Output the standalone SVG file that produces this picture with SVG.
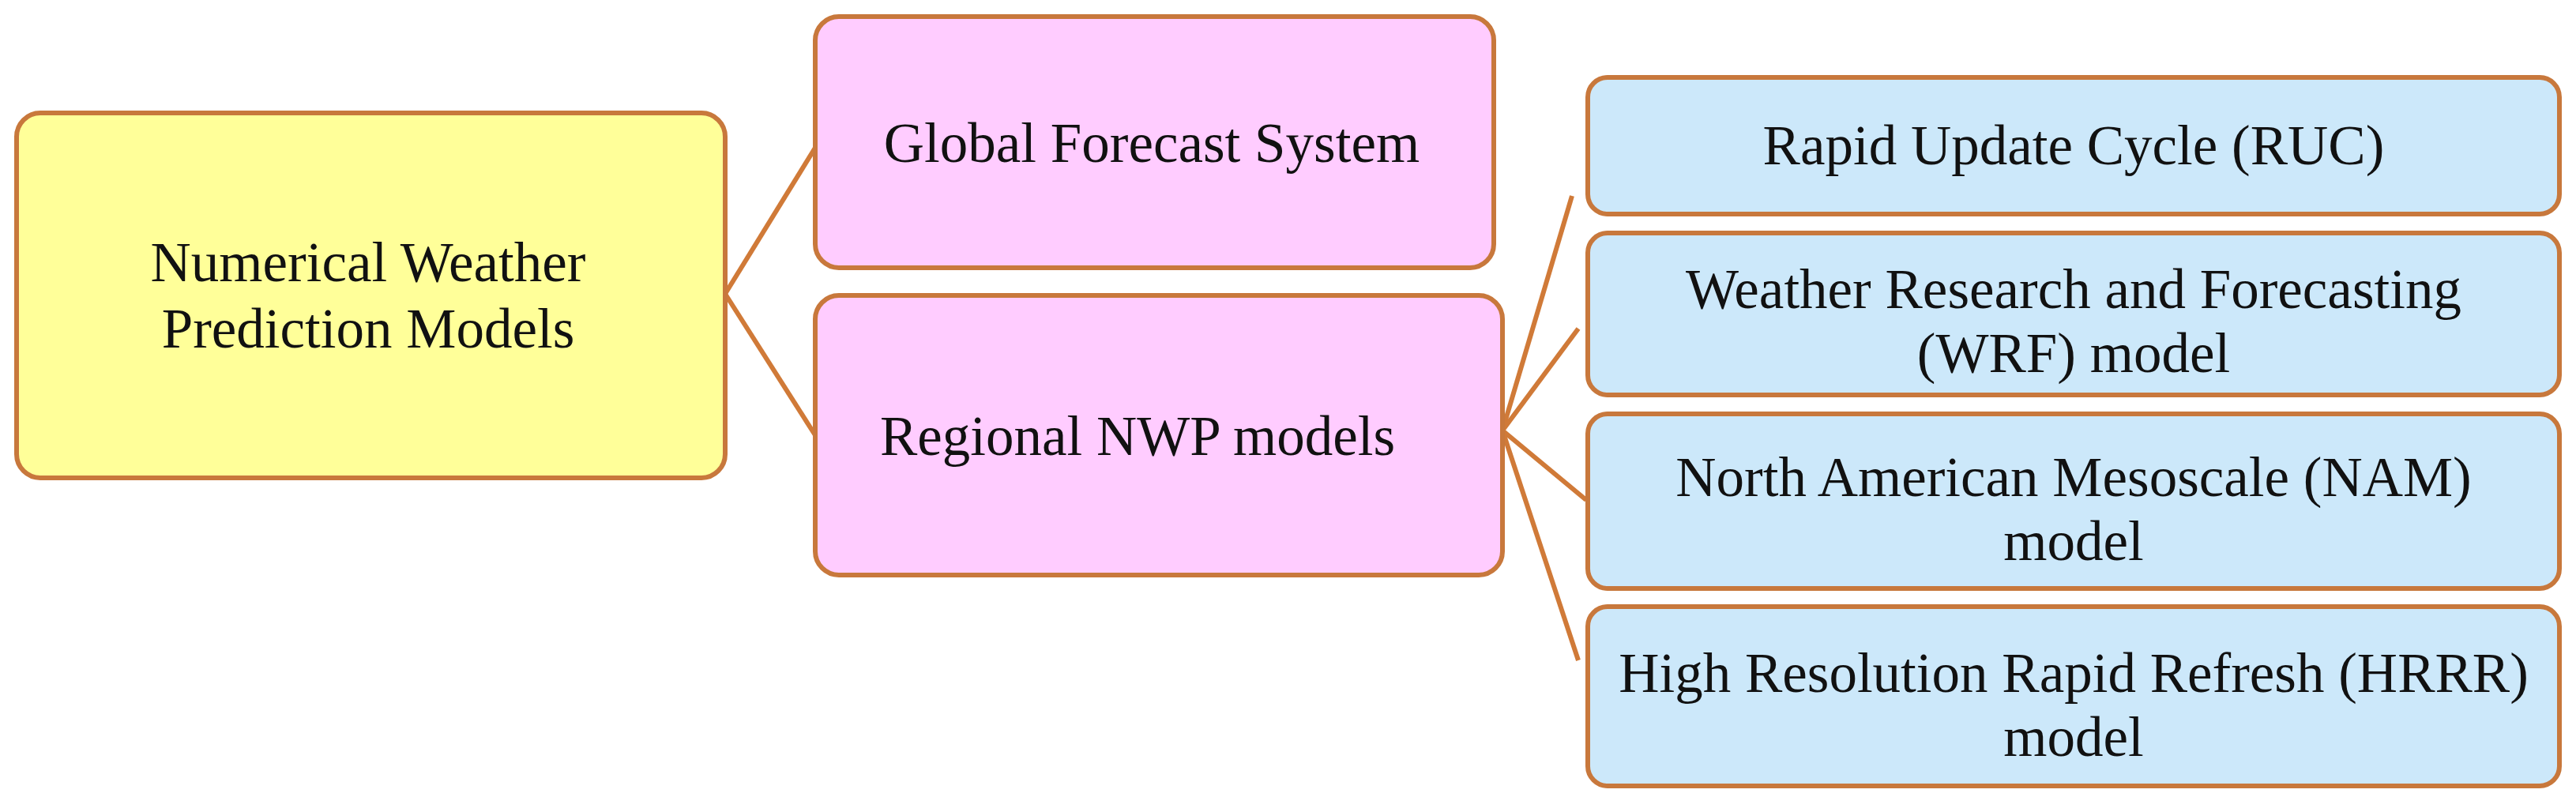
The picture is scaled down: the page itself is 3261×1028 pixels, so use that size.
<svg xmlns="http://www.w3.org/2000/svg" width="3261" height="1028" viewBox="0 0 3261 1028">
<style>
.n{stroke:#C8783C;stroke-width:6}
.y{fill:#FFFF99}.p{fill:#FFCCFF}.b{fill:#CCE8FA}
text{font-family:"Liberation Serif",serif;font-size:71px;fill:#111;text-anchor:middle}
.c line{stroke:#D07A38;stroke-width:6}
</style>
<rect width="3261" height="1028" fill="#fff"/>
<g class="c">
<line x1="918" y1="372" x2="1032" y2="187"/>
<line x1="918" y1="372" x2="1032" y2="551"/>
<line x1="1902" y1="545" x2="1990" y2="248"/>
<line x1="1902" y1="545" x2="1998" y2="416"/>
<line x1="1902" y1="545" x2="2008" y2="633"/>
<line x1="1902" y1="545" x2="1998" y2="836"/>
</g>
<g id="nwp"><rect class="n y" x="21" y="143" width="897" height="462" rx="30"/>
<text x="466" y="356">Numerical Weather</text><text x="466" y="440">Prediction Models</text></g>
<g id="gfs"><rect class="n p" x="1032" y="21" width="859" height="318" rx="30"/>
<text x="1458" y="205">Global Forecast System</text></g>
<g id="regional"><rect class="n p" x="1032" y="374" width="870" height="354" rx="30"/>
<text x="1440" y="576">Regional NWP models</text></g>
<g id="ruc"><rect class="n b" x="2010" y="98" width="1230" height="173" rx="25"/>
<text x="2625" y="208">Rapid Update Cycle (RUC)</text></g>
<g id="wrf"><rect class="n b" x="2010" y="295" width="1230" height="205" rx="25"/>
<text x="2625" y="390">Weather Research and Forecasting</text><text x="2625" y="471">(WRF) model</text></g>
<g id="nam"><rect class="n b" x="2010" y="524" width="1230" height="221" rx="25"/>
<text x="2625" y="628">North American Mesoscale (NAM)</text><text x="2625" y="709">model</text></g>
<g id="hrrr"><rect class="n b" x="2010" y="768" width="1230" height="227" rx="25"/>
<text x="2625" y="876">High Resolution Rapid Refresh (HRRR)</text><text x="2625" y="957">model</text></g>
</svg>
